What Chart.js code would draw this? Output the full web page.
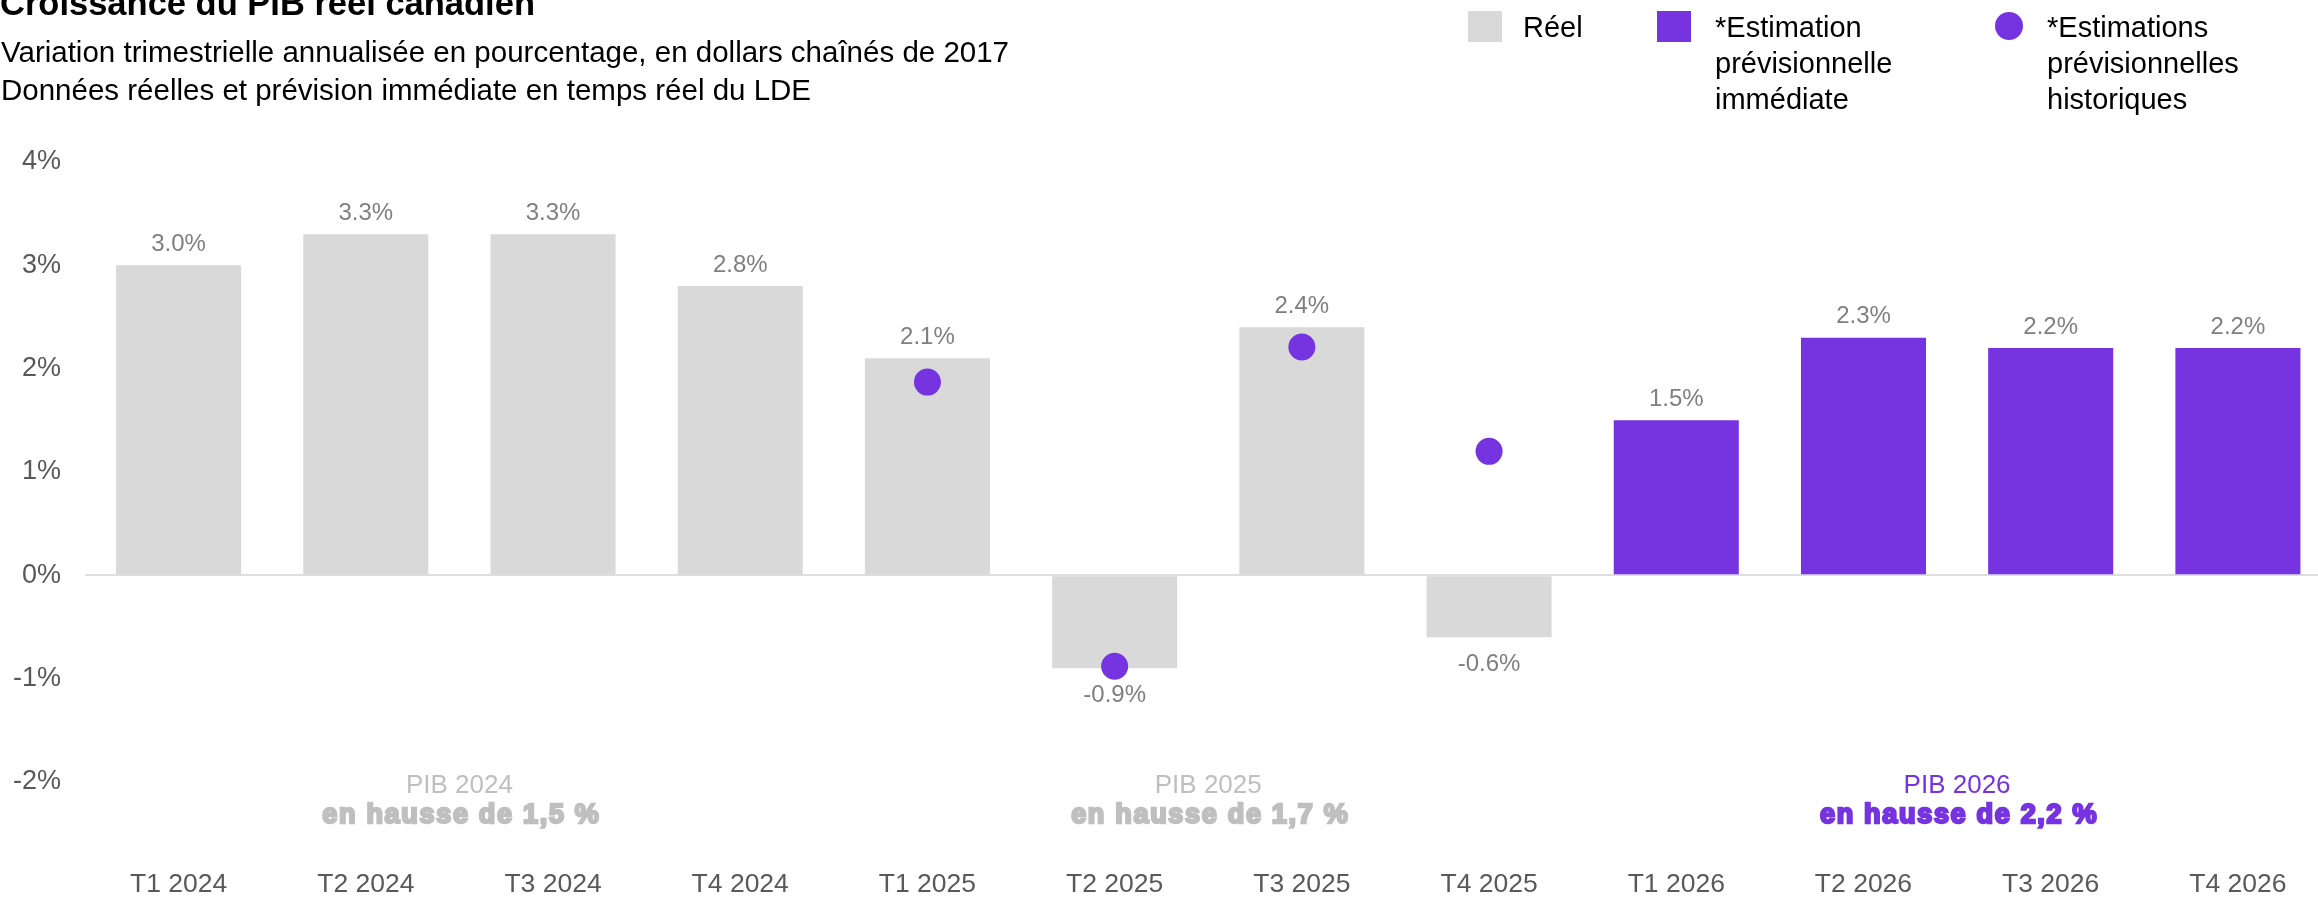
<!DOCTYPE html>
<html lang="fr">
<head>
<meta charset="utf-8">
<title>Croissance du PIB réel canadien</title>
<script src="https://cdn.jsdelivr.net/npm/chart.js@4.4.1/dist/chart.umd.min.js"></script>
<style>
  html, body { margin: 0; padding: 0; background: #fff; overflow: hidden; }
  /* the canvas is a bit wider than the window: the last category runs past the edge, as in the original */
  #wrap { position: relative; width: 2345px; height: 897px; }
</style>
</head>
<body>
<div id="wrap"><canvas id="gdp-chart" width="2345" height="897"></canvas></div>
<script>
// quarters on the x axis
const quarters = ['T1 2024', 'T2 2024', 'T3 2024', 'T4 2024', 'T1 2025', 'T2 2025',
  'T3 2025', 'T4 2025', 'T1 2026', 'T2 2026', 'T3 2026', 'T4 2026'];

// quarterly annualized growth, %
const actualGrowth = [3.0, 3.3, 3.3, 2.8, 2.1, -0.9, 2.4, -0.6, null, null, null, null];
const nowcastGrowth = [null, null, null, null, null, null, null, null, 1.5, 2.3, 2.2, 2.2];
const pastNowcasts = [null, null, null, null, 1.87, -0.88, 2.21, 1.2, null, null, null, null];

// annual GDP boxes under the bars
const annualYears = ['2024', '2025', '2026'];
const annualGrowth = ['1,5', '1,7', '2,2'];

const yTicks = [-2, -1, 0, 1, 2, 3, 4];

const GREY = '#d9d9d9';
const PURPLE = '#7633e0';
const FONT = '"Liberation Sans", Arial, Helvetica, sans-serif';

Chart.defaults.font.family = FONT;

// percentages above / below each bar
const valueLabels = {
  id: 'valueLabels',
  afterDatasetsDraw(chart) {
    const ctx = chart.ctx;
    ctx.save();
    ctx.font = '24px ' + FONT;
    ctx.fillStyle = '#7f7f7f';
    ctx.textAlign = 'center';
    ctx.textBaseline = 'middle';
    [0, 1].forEach(i => {
      const values = chart.data.datasets[i].data;
      chart.getDatasetMeta(i).data.forEach((bar, j) => {
        const v = values[j];
        if (v === null) return;
        const y = v >= 0 ? bar.y - 21 : bar.y + 27;
        ctx.fillText(v.toFixed(1) + '%', bar.x, y);
      });
    });
    ctx.restore();
  }
};

// "PIB 20xx / en hausse de x %" under each year
const annualNotes = {
  id: 'annualNotes',
  afterDraw(chart) {
    const ctx = chart.ctx;
    const xs = chart.scales.x;
    const y0 = chart.scales.y.getPixelForValue(-2);
    ctx.save();
    ctx.textAlign = 'center';
    ctx.textBaseline = 'middle';
    annualYears.forEach((yr, k) => {
      const idx = quarters.map((q, i) => q.endsWith(yr) ? i : -1).filter(i => i >= 0);
      const x = xs.getPixelForValue((idx[0] + idx[idx.length - 1]) / 2);
      const color = k === annualYears.length - 1 ? PURPLE : '#bfbfbf';
      ctx.fillStyle = color;
      ctx.strokeStyle = color;
      ctx.letterSpacing = '0px';
      ctx.font = '26px ' + FONT;
      ctx.fillText('PIB ' + yr, x, y0 + 4);
      ctx.font = 'bold 27px ' + FONT;
      ctx.letterSpacing = '1.7px';
      ctx.lineWidth = 2.4;
      const txt = 'en hausse de ' + annualGrowth[k] + ' %';
      ctx.strokeText(txt, x + 2, y0 + 34);
      ctx.fillText(txt, x + 2, y0 + 34);
    });
    ctx.restore();
  }
};

// title, subtitles and legend
const header = {
  id: 'header',
  afterDraw(chart) {
    const ctx = chart.ctx;
    ctx.save();
    ctx.fillStyle = '#000';
    ctx.textAlign = 'left';
    ctx.textBaseline = 'alphabetic';
    ctx.font = 'bold 34.5px ' + FONT;
    ctx.fillText('Croissance du PIB réel canadien', 0, 15);
    ctx.font = '29.5px ' + FONT;
    ctx.fillText('Variation trimestrielle annualisée en pourcentage, en dollars chaînés de 2017', 1, 62);
    ctx.fillText('Données réelles et prévision immédiate en temps réel du LDE', 1, 100);

    // legend
    const items = [
      { lines: ['Réel'], box: 1468, text: 1523, color: GREY, dot: false },
      { lines: ['*Estimation', 'prévisionnelle', 'immédiate'], box: 1657, text: 1715, color: PURPLE, dot: false },
      { lines: ['*Estimations', 'prévisionnelles', 'historiques'], box: 1995, text: 2047, color: PURPLE, dot: true }
    ];
    ctx.font = '29px ' + FONT;
    items.forEach(it => {
      ctx.fillStyle = it.color;
      if (it.dot) {
        ctx.beginPath();
        ctx.arc(it.box + 14, 26, 14, 0, Math.PI * 2);
        ctx.fill();
      } else {
        ctx.fillRect(it.box, 11, 34, 31);
      }
      ctx.fillStyle = '#000';
      it.lines.forEach((line, n) => ctx.fillText(line, it.text, 37 + n * 36));
    });
    ctx.restore();
  }
};

new Chart(document.getElementById('gdp-chart'), {
  data: {
    labels: quarters,
    datasets: [
      {
        type: 'bar',
        label: 'Réel',
        data: actualGrowth,
        backgroundColor: GREY,
        barPercentage: 0.668,
        categoryPercentage: 1,
        order: 2
      },
      {
        type: 'bar',
        label: '*Estimation prévisionnelle immédiate',
        data: nowcastGrowth,
        backgroundColor: PURPLE,
        barPercentage: 0.668,
        categoryPercentage: 1,
        order: 2
      },
      {
        type: 'line',
        label: '*Estimations prévisionnelles historiques',
        data: pastNowcasts,
        showLine: false,
        pointRadius: 13.5,
        pointBackgroundColor: PURPLE,
        pointBorderWidth: 0,
        order: 0
      }
    ]
  },
  options: {
    responsive: false,
    animation: false,
    devicePixelRatio: 1,
    layout: { padding: { top: 162, left: 0, right: 0, bottom: 0 } },
    plugins: {
      legend: { display: false },
      tooltip: { enabled: false }
    },
    scales: {
      x: {
        stacked: true,
        afterFit(scale) {
          scale.height = 115;
          scale.paddingLeft = 0;
          scale.paddingRight = 0;
        },
        border: { display: false },
        grid: { display: false },
        ticks: { padding: 79, color: '#595959', font: { size: 26.5 }, maxRotation: 0, autoSkip: false }
      },
      y: {
        min: yTicks[0],
        max: yTicks[yTicks.length - 1],
        afterFit(scale) { scale.width = 85; },
        afterBuildTicks(scale) { scale.ticks = yTicks.map(v => ({ value: v })); },
        border: { display: false },
        grid: {
          drawTicks: false,
          lineWidth: 2,
          color: c => c.tick && c.tick.value === 0 ? '#dedede' : 'rgba(0,0,0,0)'
        },
        ticks: { padding: 24, color: '#595959', font: { size: 27 }, callback: v => v + '%' }
      }
    }
  },
  plugins: [valueLabels, annualNotes, header]
});
</script>
</body>
</html>
